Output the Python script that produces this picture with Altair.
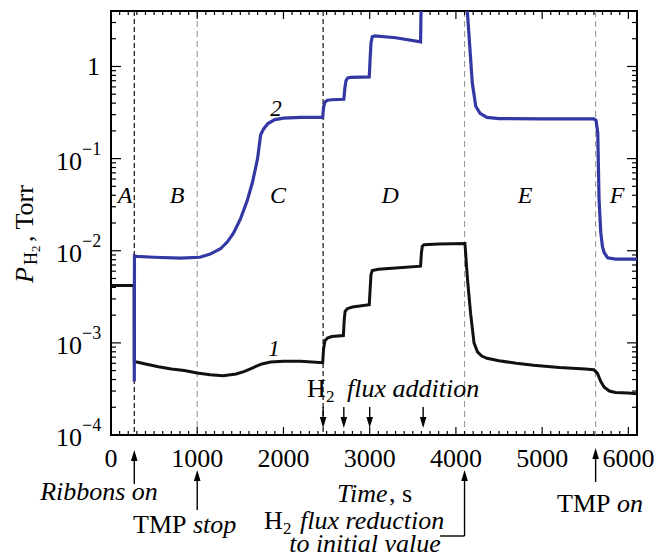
import altair as alt
import pandas as pd

# ---------------- data ----------------
blue_t = [270, 272, 300, 500, 800, 1030, 1150, 1270, 1350, 1420,
          1500, 1580, 1640, 1700, 1735, 1770, 1820, 1900, 2000, 2200,
          2455, 2465, 2480, 2510, 2560, 2700, 2712, 2725, 2745, 2780,
          2995, 3005, 3015, 3030, 3060, 3300, 3590, 3600, 4110, 4150,
          4190, 4230, 4280, 4360, 4500, 5000, 5600, 5625, 5645, 5660,
          5680, 5700, 5720, 5760, 5850, 6100]
blue_p = [3.8e-4, 8.8e-3, 8.7e-3, 8.5e-3, 8.3e-3, 8.5e-3, 9.2e-3, 1.05e-2, 1.25e-2, 1.55e-2,
          2.2e-2, 3.5e-2, 5.5e-2, 0.1, 0.18, 0.21, 0.24, 0.265, 0.275, 0.28,
          0.28, 0.36, 0.41, 0.43, 0.435, 0.44, 0.58, 0.70, 0.75, 0.76,
          0.77, 1.2, 1.8, 2.1, 2.15, 2.05, 1.85, 8.0, 8.0, 2.3,
          0.66, 0.37, 0.31, 0.28, 0.272, 0.27, 0.27, 0.26, 0.19, 0.036,
          0.0157, 0.011, 0.0095, 0.0084, 0.0081, 0.0081]

black_t = [0, 268, 270, 300, 400, 550, 700, 850, 1000, 1150,
           1300, 1450, 1550, 1650, 1750, 1850, 2000, 2200, 2455, 2465,
           2480, 2510, 2560, 2695, 2705, 2715, 2740, 2800, 2995, 3005,
           3015, 3030, 3100, 3300, 3590, 3600, 3610, 3630, 3800, 4105,
           4120, 4135, 4170, 4210, 4250, 4300, 4360, 4500, 4700, 4900,
           5200, 5500, 5600, 5640, 5680, 5720, 5780, 5850, 6000, 6100]
black_p = [4.2e-3, 4.2e-3, 6.2e-4, 6.2e-4, 5.9e-4, 5.5e-4, 5.2e-4, 5.0e-4, 4.7e-4, 4.5e-4,
           4.4e-4, 4.6e-4, 4.9e-4, 5.4e-4, 5.9e-4, 6.2e-4, 6.3e-4, 6.3e-4, 6.1e-4, 8.5e-4,
           1.05e-3, 1.13e-3, 1.17e-3, 1.2e-3, 1.8e-3, 2.2e-3, 2.35e-3, 2.45e-3, 2.6e-3, 3.8e-3,
           5.5e-3, 6.1e-3, 6.3e-3, 6.5e-3, 6.8e-3, 9.5e-3, 1.12e-2, 1.16e-2, 1.18e-2, 1.2e-2,
           7.5e-3, 4.8e-3, 2.1e-3, 1.0e-3, 8.0e-4, 7.2e-4, 6.8e-4, 6.4e-4, 6.0e-4, 5.7e-4,
           5.4e-4, 5.2e-4, 5.1e-4, 4.7e-4, 3.8e-4, 3.3e-4, 3.0e-4, 2.9e-4, 2.85e-4, 2.8e-4]

dash_dark_t = [270, 2460]
dash_grey_t = [1000, 4100, 5620]

region_lbl = ["A", "B", "C", "D", "E", "F"]
region_t = [162, 766, 1937, 3237, 4803, 5870]
region_p = [0.039, 0.039, 0.039, 0.039, 0.039, 0.039]

curve_lbl = ["2", "1"]
curve_t = [1914, 1891]
curve_p = [0.343, 8.6e-4]

x_major = [0, 1000, 2000, 3000, 4000, 5000, 6000]
x_lbl = ["0", "1000", "2000", "3000", "4000", "5000", "6000"]
x_minor = [v for v in range(100, 6101, 100) if v % 1000 != 0]
y_major = [1e-4, 1e-3, 1e-2, 1e-1, 1.0]
y_minor = [k * 10.0 ** e for e in range(-4, 0) for k in range(2, 10)] + [2.0, 3.0]
dec_vals = [1e-4, 1e-3, 1e-2, 1e-1]
dec_exp = ["\u22124", "\u22123", "\u22122", "\u22121"]

up_arrow_t = [270, 1000, 4100, 5620]
down_arrow_t = [2460, 2700, 3000, 3620]
bracket_t = [3815, 4100]

assert len(blue_t) == len(blue_p) and len(black_t) == len(black_p)

# ---------------- layout ----------------
W, H = 526, 424
PT, PL = 11, 111          # page position of plot's top-left corner
FONT = "Liberation Serif"
FS = 26

def py(v):
    return v - PT

def px(v):
    return v - PL

xs = alt.Scale(domain=[0, 6100], nice=False, zero=False)
ys = alt.Scale(type="log", domain=[1e-4, 4], nice=False)

layers = []

# vertical dashed lines
layers.append(alt.Chart(pd.DataFrame({"t": dash_dark_t})).mark_rule(
    color="#2a2222", strokeDash=[5, 3], strokeWidth=1.3).encode(
    x=alt.X("t:Q", scale=xs, axis=None)))
layers.append(alt.Chart(pd.DataFrame({"t": dash_grey_t})).mark_rule(
    color="#9a9a9a", strokeDash=[6, 4], strokeWidth=1.1).encode(
    x=alt.X("t:Q", scale=xs, axis=None)))

# inward tick marks on all four sides
def xticks(vals, length):
    d = pd.DataFrame({"v": vals})
    base = alt.Chart(d).mark_rule(color="black", strokeWidth=1.2)
    xx = alt.X("v:Q", scale=xs, axis=None)
    return [base.encode(x=xx, y=alt.value(H), y2=alt.value(H - length)),
            base.encode(x=xx, y=alt.value(0), y2=alt.value(length))]

def yticks(vals, length):
    d = pd.DataFrame({"v": vals})
    base = alt.Chart(d).mark_rule(color="black", strokeWidth=1.2)
    yy = alt.Y("v:Q", scale=ys, axis=None)
    return [base.encode(y=yy, x=alt.value(0), x2=alt.value(length)),
            base.encode(y=yy, x=alt.value(W), x2=alt.value(W - length))]

layers += xticks(x_major, 8) + xticks(x_minor, 4) + yticks(y_major, 10) + yticks(y_minor, 5)

# x tick labels
layers.append(alt.Chart(pd.DataFrame({"v": x_major, "s": x_lbl})).mark_text(
    font=FONT, fontSize=FS, align="center", baseline="alphabetic", color="black").encode(
    x=alt.X("v:Q", scale=xs, axis=None), y=alt.value(H + 32), text="s:N"))

# curves
black_df = pd.DataFrame({"t": black_t, "p": black_p, "i": range(len(black_t))})
blue_df = pd.DataFrame({"t": blue_t, "p": blue_p, "i": range(len(blue_t))})
layers.append(alt.Chart(black_df).mark_line(color="#111111", strokeWidth=3, clip=True).encode(
    x=alt.X("t:Q", scale=xs, axis=None),
    y=alt.Y("p:Q", scale=ys, axis=None),
    order="i:Q"))
layers.append(alt.Chart(blue_df).mark_line(color="#3438a4", strokeWidth=3.2, clip=True).encode(
    x=alt.X("t:Q", scale=xs, axis=None),
    y=alt.Y("p:Q", scale=ys, axis=None),
    order="i:Q"))

# region letters and curve numbers
layers.append(alt.Chart(pd.DataFrame({"t": region_t, "p": region_p, "s": region_lbl})).mark_text(
    font=FONT, fontSize=24, fontStyle="italic", baseline="middle", color="black").encode(
    x=alt.X("t:Q", scale=xs, axis=None), y=alt.Y("p:Q", scale=ys, axis=None), text="s:N"))
layers.append(alt.Chart(pd.DataFrame({"t": curve_t, "p": curve_p, "s": curve_lbl})).mark_text(
    font=FONT, fontSize=23, fontStyle="italic", baseline="middle", color="black").encode(
    x=alt.X("t:Q", scale=xs, axis=None), y=alt.Y("p:Q", scale=ys, axis=None), text="s:N"))

# y tick labels: 10^n
dec_df = pd.DataFrame({"v": dec_vals, "e": dec_exp})
layers.append(alt.Chart(dec_df).mark_text(font=FONT, fontSize=FS, align="right", baseline="middle",
                                          dy=3, color="black").encode(
    x=alt.value(-29), y=alt.Y("v:Q", scale=ys, axis=None), text=alt.value("10")))
layers.append(alt.Chart(dec_df).mark_text(font=FONT, fontSize=18, align="left", baseline="middle",
                                          dy=-9, color="black").encode(
    x=alt.value(-29), y=alt.Y("v:Q", scale=ys, axis=None), text="e:N"))
layers.append(alt.Chart(pd.DataFrame({"v": [1.0]})).mark_text(
    font=FONT, fontSize=FS, align="right", baseline="middle", dy=1, color="black").encode(
    x=alt.value(-11), y=alt.Y("v:Q", scale=ys, axis=None), text=alt.value("1")))


def ptxt(s, xp, yp, size=FS, italic=False, align="left", angle=0):
    return alt.Chart(pd.DataFrame({"s": [s]})).mark_text(
        font=FONT, fontSize=size, fontStyle="italic" if italic else "normal",
        align=align, baseline="alphabetic", angle=angle, color="black").encode(
        x=alt.value(px(xp)), y=alt.value(py(yp)), text="s:N")


# y title (rotated)
layers += [
    ptxt("P", 33, 283, italic=True, angle=270),
    ptxt("H", 37, 265, size=18, angle=270),
    ptxt("2", 40, 252, size=13, angle=270),
    ptxt(", Torr", 33, 242, angle=270),
]

# x title
layers += [ptxt("Time", 337, 502, italic=True), ptxt(", s", 389, 502)]

# annotations
layers += [
    ptxt("Ribbons on", 99, 500, italic=True, align="center"),
    ptxt("TMP ", 133, 533), ptxt("stop", 193, 533, italic=True),
    ptxt("TMP ", 557, 512), ptxt("on", 617, 512, italic=True),
    ptxt("H", 264, 529), ptxt("2", 283, 534, size=17),
    ptxt("flux reduction", 300, 529, italic=True),
    ptxt("to initial value", 365, 552, italic=True, align="center"),
    ptxt("H", 307, 397), ptxt("2", 326, 402, size=17),
    ptxt("flux addition", 347, 397, italic=True),
]

# arrows
up_df = pd.DataFrame({"t": up_arrow_t,
                      "tip": [py(v) for v in [450, 470, 470, 448]],
                      "tail": [py(v) for v in [484, 510, 536, 482]]})
up_df["head"] = up_df["tip"] + 5.5
down_df = pd.DataFrame({"t": down_arrow_t,
                        "tip": [py(v) for v in [428, 428, 428, 428]],
                        "tail": [py(v) for v in [407, 407, 407, 407]]})
down_df["head"] = down_df["tip"] - 5.5

for df, shape in [(up_df, "M0,-1L0.6,1L-0.6,1Z"), (down_df, "M0,1L0.6,-1L-0.6,-1Z")]:
    layers.append(alt.Chart(df).mark_rule(color="black", strokeWidth=1.4).encode(
        x=alt.X("t:Q", scale=xs, axis=None),
        y=alt.Y("tail:Q", scale=None), y2="head:Q"))
    layers.append(alt.Chart(df).mark_point(shape=shape, filled=True, size=121, color="black",
                                           opacity=1).encode(
        x=alt.X("t:Q", scale=xs, axis=None), y=alt.Y("head:Q", scale=None)))

layers.append(alt.Chart(pd.DataFrame({"t": [bracket_t[0]], "t2": [bracket_t[1]]})).mark_rule(
    color="black", strokeWidth=1.4).encode(
    x=alt.X("t:Q", scale=xs, axis=None), x2="t2:Q", y=alt.value(py(536))))

chart = alt.layer(*layers).properties(
    width=W, height=H,
    padding={"left": 103, "top": 3, "right": 22, "bottom": 124},
    autosize=alt.AutoSizeParams(type="none"),
).configure_view(stroke="black", strokeWidth=2)

chart.save("out.html", embed_options={"renderer": "svg", "actions": False})
